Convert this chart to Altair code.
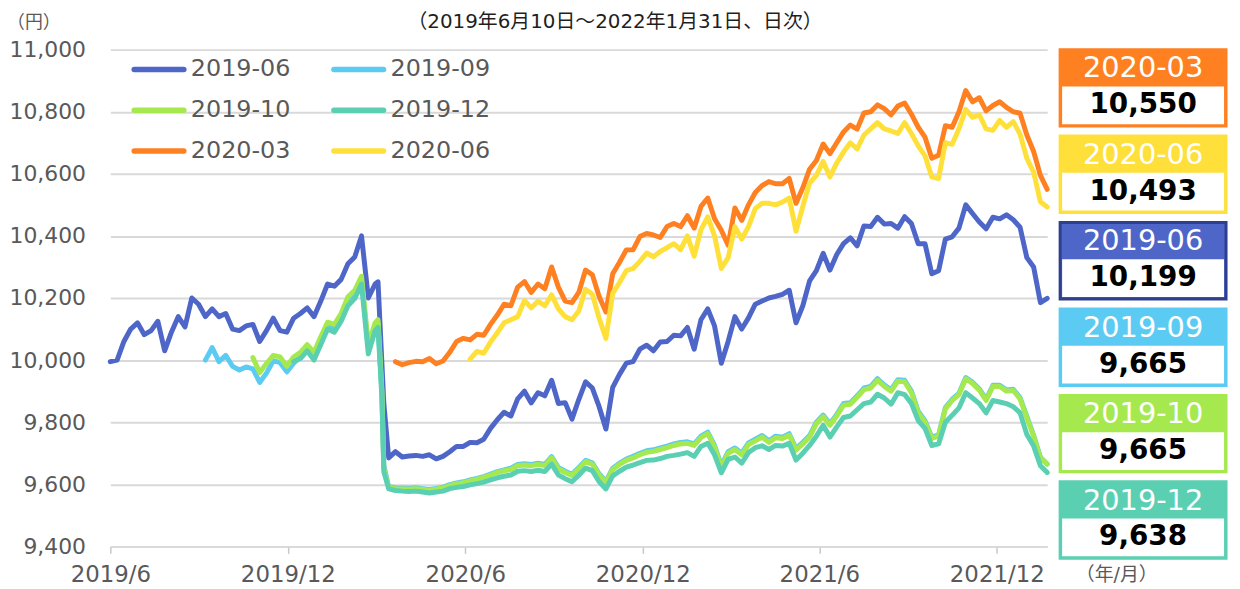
import altair as alt
import pandas as pd

FONT = "DejaVu Sans, Noto Sans CJK JP"

series_names = ["2019-06", "2019-09", "2019-10", "2019-12", "2020-03", "2020-06"]
line_colors = ["#4E66C8", "#5CCBF3", "#A6E94F", "#5BCFB1", "#FF8021", "#FFE03A"]
border_colors = ["#2F3F8F", "#5CCBF3", "#A6E94F", "#5BCFB1", "#FF8021", "#FFE03A"]

# weekly sampling grid (Mondays, 2019-06-10 .. 2022-01-31)
week_dates = pd.date_range("2019-06-10", "2022-01-31", freq="7D").strftime("%Y-%m-%d").tolist()
# extra points inside the March 2020 drop
crash_dates = ["2020-03-12", "2020-03-18"]

nav_2019_06 = [
    9995, 10000, 10060, 10100, 10120, 10082, 10095, 10125, 10030, 10090,
    10140, 10107, 10200, 10180, 10140, 10165, 10140, 10150, 10100, 10095,
    10110, 10115, 10060, 10095, 10135, 10095, 10090, 10135, 10150, 10168,
    10140, 10190, 10245, 10238, 10260, 10310, 10332, 10400, 10200, 10245,
    9990, 9685, 9705, 9688, 9691, 9693, 9690, 9695, 9682, 9690,
    9705, 9722, 9722, 9735, 9734, 9745, 9780, 9808, 9832, 9820,
    9875, 9900, 9862, 9895, 9885, 9935, 9860, 9863, 9810, 9873,
    9930, 9910, 9850, 9778, 9912, 9954, 9990, 9995, 10035, 10048,
    10030, 10058, 10060, 10080, 10078, 10105, 10035, 10130, 10165, 10110,
    9990, 10060, 10140, 10100, 10136, 10180, 10190, 10200, 10205, 10212,
    10225, 10120, 10175, 10255, 10288, 10344, 10290, 10340, 10375, 10394,
    10368, 10432, 10430, 10460, 10438, 10440, 10425, 10462, 10440, 10375,
    10375, 10278, 10288, 10390, 10397, 10425, 10500, 10472, 10445, 10423,
    10460, 10455, 10468, 10452, 10428, 10330, 10300, 10185, 10199,
]
nav_2019_09 = [None] * 14 + [
    10000, 10040, 9995, 10015, 9980, 9968, 9978, 9972, 9928, 9958,
    9998, 9992, 9962, 9990, 10012, 10035, 10010, 10062, 10108, 10100,
    10138, 10190, 10212, 10258, 10040, 10110, 9895, 9592, 9589, 9588,
    9587, 9589, 9586, 9583, 9587, 9591, 9599, 9604, 9608, 9614,
    9619, 9625, 9633, 9641, 9646, 9652, 9664, 9666, 9664, 9668,
    9664, 9689, 9654, 9642, 9632, 9654, 9677, 9669, 9634, 9609,
    9652, 9668, 9681, 9690, 9700, 9708, 9711, 9717, 9723, 9730,
    9735, 9737, 9730, 9755, 9768, 9725, 9660, 9705, 9717, 9700,
    9733, 9745, 9757, 9740, 9755, 9752, 9763, 9715, 9735, 9757,
    9800, 9823, 9795, 9825, 9860, 9863, 9885, 9910, 9915, 9940,
    9920, 9905, 9937, 9935, 9900, 9835, 9805, 9752, 9759, 9847,
    9874, 9893, 9944, 9929, 9907, 9874, 9919, 9919, 9904, 9906,
    9879, 9819, 9758, 9687, 9665,
]
nav_2019_10 = [None] * 21 + [
    10008, 9960, 9989,
    10015, 10010, 9980, 10010, 10025, 10050, 10025, 10075, 10122, 10115,
    10150, 10204, 10225, 10270, 10050, 10120, 9900, 9590, 9586, 9585,
    9584, 9586, 9583, 9580, 9584, 9588, 9596, 9601, 9605, 9611,
    9616, 9622, 9630, 9638, 9643, 9648, 9660, 9662, 9660, 9664,
    9660, 9685, 9650, 9638, 9628, 9650, 9673, 9665, 9630, 9605,
    9648, 9664, 9677, 9685, 9695, 9703, 9706, 9712, 9718, 9725,
    9730, 9732, 9725, 9750, 9763, 9720, 9655, 9700, 9712, 9695,
    9728, 9740, 9752, 9735, 9750, 9747, 9758, 9710, 9730, 9752,
    9795, 9818, 9790, 9820, 9855, 9858, 9880, 9905, 9910, 9935,
    9915, 9900, 9932, 9930, 9895, 9830, 9800, 9748, 9755, 9843,
    9870, 9889, 9940, 9925, 9903, 9870, 9915, 9915, 9900, 9902,
    9875, 9815, 9755, 9685, 9665,
]
nav_2019_12 = [None] * 27 + [
    9995, 10005, 10030, 10000, 10050, 10100, 10090,
    10125, 10175, 10198, 10245, 10020, 10095, 9880, 9585, 9580, 9578,
    9577, 9578, 9575, 9572, 9575, 9578, 9586, 9590, 9593, 9598,
    9602, 9607, 9614, 9621, 9626, 9630, 9642, 9644, 9641, 9645,
    9641, 9665, 9630, 9618, 9608, 9629, 9652, 9644, 9608, 9585,
    9627, 9642, 9655, 9662, 9670, 9677, 9678, 9683, 9690, 9693,
    9697, 9702, 9690, 9722, 9732, 9695, 9637, 9680, 9688, 9668,
    9702, 9718, 9724, 9712, 9725, 9723, 9732, 9678, 9700, 9725,
    9755, 9790, 9752, 9785, 9815, 9820, 9840, 9860, 9865, 9890,
    9878, 9858, 9895, 9889, 9860, 9805, 9780, 9725, 9730, 9800,
    9822, 9846, 9895, 9878, 9860, 9830, 9870, 9865, 9860, 9850,
    9830, 9760, 9723, 9660, 9638,
]
nav_2020_03 = [None] * 42 + [
    9995, 9985,
    9992, 9996, 9995, 10005, 9988, 9997, 10025, 10060, 10070, 10065,
    10083, 10080, 10115, 10145, 10180, 10175, 10235, 10253, 10218, 10245,
    10230, 10300, 10235, 10190, 10185, 10218, 10290, 10275, 10205, 10155,
    10278, 10315, 10355, 10355, 10398, 10408, 10403, 10395, 10430, 10440,
    10430, 10465, 10425, 10495, 10522, 10455, 10418, 10370, 10490, 10450,
    10500, 10540, 10562, 10575, 10568, 10568, 10585, 10505, 10555, 10615,
    10643, 10696, 10665, 10700, 10735, 10757, 10744, 10796, 10800, 10822,
    10810, 10790, 10818, 10828, 10792, 10750, 10718, 10650, 10660, 10755,
    10750, 10800, 10868, 10832, 10845, 10803, 10820, 10832, 10814, 10800,
    10795, 10725, 10672, 10595, 10550,
]
nav_2020_06 = [None] * 53 + [
    10003,
    10028, 10022, 10058, 10088, 10120, 10130, 10140, 10192, 10168, 10190,
    10175, 10210, 10165, 10140, 10130, 10158, 10228, 10212, 10135, 10070,
    10215, 10250, 10288, 10295, 10318, 10345, 10333, 10350, 10362, 10375,
    10356, 10400, 10335, 10420, 10461, 10400, 10295, 10330, 10430, 10390,
    10430, 10488, 10505, 10505, 10500, 10509, 10522, 10415, 10495, 10570,
    10595, 10640, 10590, 10635, 10670, 10700, 10680, 10725, 10745, 10765,
    10745, 10738, 10730, 10765, 10730, 10690, 10658, 10590, 10585, 10700,
    10695, 10745, 10808, 10782, 10790, 10745, 10740, 10772, 10750, 10768,
    10728, 10650, 10605, 10510, 10493,
]
crash_2019_06 = [10252, 9860]
crash_2019_09 = [10120, 9660]
crash_2019_10 = [10130, 9650]
crash_2019_12 = [10105, 9640]

# right-hand value boxes (latest values)
box_series = ["2020-03", "2020-06", "2019-06", "2019-09", "2019-10", "2019-12"]
box_values = [10550, 10493, 10199, 9665, 9665, 9638]

title_text = "（2019年6月10日～2022年1月31日、日次）"
y_unit_text = "（円）"
x_unit_text = "（年/月）"
y_ticks = [9400, 9600, 9800, 10000, 10200, 10400, 10600, 10800, 11000]
x_tick_dates = [(2019, 6, 10), (2019, 12, 10), (2020, 6, 10), (2020, 12, 10), (2021, 6, 10), (2021, 12, 10)]

# ---------------------------------------------------------------- build table
all_series = [nav_2019_06, nav_2019_09, nav_2019_10, nav_2019_12, nav_2020_03, nav_2020_06]
all_crash = [crash_2019_06, crash_2019_09, crash_2019_10, crash_2019_12, [], []]
for s in all_series:
    assert len(s) == len(week_dates), (len(s), len(week_dates))

rows = []
for name, vals, extra in zip(series_names, all_series, all_crash):
    pts = [(d, v) for d, v in zip(week_dates, vals) if v is not None]
    pts += list(zip(crash_dates, extra))
    pts.sort()
    rows += [{"series": name, "date": d, "value": v} for d, v in pts]
df = pd.DataFrame(rows)

color_scale = alt.Scale(domain=series_names, range=line_colors)


def dt(t):
    return alt.DateTime(year=t[0], month=t[1], date=t[2], utc=True)


lines = alt.Chart(df).mark_line(strokeWidth=5, strokeJoin="round", strokeCap="round").encode(
    x=alt.X(
        "date:T",
        scale=alt.Scale(type="utc", domain=[dt((2019, 6, 10)), dt((2022, 1, 31))]),
        axis=alt.Axis(
            values=[dt(t) for t in x_tick_dates], format="%Y/%-m", title=None,
            labelFont=FONT, labelFontSize=23, labelColor="#595959",
            tickSize=7, tickColor="#C8C8C8", tickWidth=1.5,
            domainColor="#D9D9D9", domainWidth=2, grid=False,
            labelPadding=10, labelFlush=False, labelOverlap=False,
        ),
    ),
    y=alt.Y(
        "value:Q",
        scale=alt.Scale(domain=[9400, 11000], nice=False, zero=False),
        axis=alt.Axis(
            values=y_ticks, format=",.0f", title=None,
            labelFont=FONT, labelFontSize=22, labelColor="#595959",
            ticks=False, tickSize=0, domain=False, labelPadding=25,
            gridColor="#D9D9D9", gridWidth=2,
        ),
    ),
    color=alt.Color("series:N", scale=color_scale, legend=None),
)

# legend drawn inside the plot (3 rows x 2 columns)
legend_base = alt.Chart(pd.DataFrame({"series": series_names})).transform_window(
    rn="row_number()"
).transform_calculate(col="(datum.rn - 1) % 2").transform_calculate(
    row="floor((datum.rn - 1) / 2)"
).transform_calculate(
    lx1="24 + datum.col * 201"
).transform_calculate(
    lx2="74 + datum.col * 201"
).transform_calculate(
    ly="20 + datum.row * 41"
).transform_calculate(
    tx="81 + datum.col * 201"
)
legend_lines = legend_base.mark_rule(strokeWidth=5.5, strokeCap="round").encode(
    x=alt.X("lx1:Q", scale=None, axis=None),
    x2="lx2:Q",
    y=alt.Y("ly:Q", scale=None, axis=None),
    color=alt.Color("series:N", scale=color_scale, legend=None),
)
legend_text = legend_base.mark_text(
    align="left", baseline="middle", font=FONT, fontSize=24, color="#595959"
).encode(
    x=alt.X("tx:Q", scale=None, axis=None),
    y=alt.Y("ly:Q", scale=None, axis=None),
    text="series:N",
)

# value boxes on the right
box_base = alt.Chart(pd.DataFrame({"series": box_series, "value": box_values})).transform_window(
    rn="row_number()"
).transform_calculate(top="(datum.rn - 1) * 87").transform_calculate(
    bottom="datum.top + 77"
).transform_calculate(
    wtop="datum.top + 37"
).transform_calculate(
    wbot="datum.top + 75"
).transform_calculate(
    hmid="datum.top + 19"
).transform_calculate(
    vmid="datum.top + 56"
)
box_outer = box_base.mark_rect(strokeWidth=3).encode(
    x=alt.value(956), x2=alt.value(1123),
    y=alt.Y("top:Q", scale=None, axis=None), y2="bottom:Q",
    fill=alt.Fill("series:N", scale=alt.Scale(domain=series_names, range=line_colors), legend=None),
    stroke=alt.Stroke("series:N", scale=alt.Scale(domain=series_names, range=border_colors), legend=None),
)
box_inner = box_base.mark_rect(color="white").encode(
    x=alt.value(958), x2=alt.value(1121),
    y=alt.Y("wtop:Q", scale=None, axis=None), y2="wbot:Q",
)
box_label = box_base.mark_text(
    align="center", baseline="middle", font=FONT, fontSize=29, color="white"
).encode(
    x=alt.value(1039.5), y=alt.Y("hmid:Q", scale=None, axis=None), text="series:N"
)
box_value = box_base.mark_text(
    align="center", baseline="middle", font=FONT, fontSize=28, fontWeight="bold", color="#000000"
).encode(
    x=alt.value(1039.5), y=alt.Y("vmid:Q", scale=None, axis=None), text=alt.Text("value:Q", format=",")
)

title = alt.Chart(pd.DataFrame({"t": [title_text]})).mark_text(
    align="center", baseline="middle", font=FONT, fontSize=20, color="#1F1F1F"
).encode(x=alt.value(508), y=alt.value(-28), text="t:N")
y_unit = alt.Chart(pd.DataFrame({"t": [y_unit_text]})).mark_text(
    align="center", baseline="middle", font=FONT, fontSize=18, color="#595959"
).encode(x=alt.value(-77), y=alt.value(-27), text="t:N")
x_unit = alt.Chart(pd.DataFrame({"t": [x_unit_text]})).mark_text(
    align="center", baseline="middle", font=FONT, fontSize=19, color="#595959"
).encode(x=alt.value(1013), y=alt.value(529), text="t:N")

chart = alt.layer(
    lines, legend_lines, legend_text, box_outer, box_inner, box_label, box_value, title, y_unit, x_unit
).properties(
    width=943,
    height=500,
    padding={"left": 103, "top": 40, "right": 186, "bottom": 41},
    autosize=alt.AutoSizeParams(type="none"),
    background="white",
).configure_view(strokeWidth=0)

chart.save("out.html", embed_options={"renderer": "svg", "actions": False})
